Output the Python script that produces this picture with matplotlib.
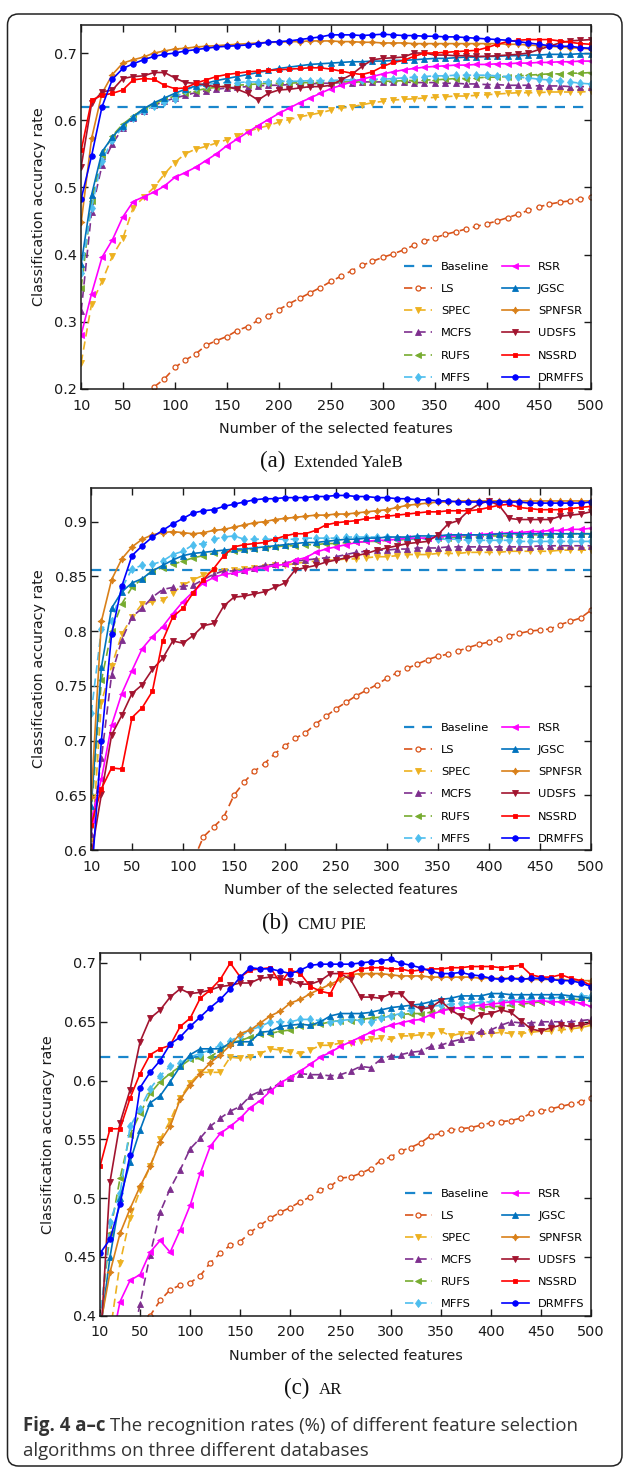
import numpy as np
import matplotlib
matplotlib.use("Agg")
import matplotlib.pyplot as plt
from matplotlib.patches import FancyBboxPatch

nan = float("nan")
n_features = list(range(10, 501, 10))

method_names = ["Baseline", "LS", "SPEC", "MCFS", "RUFS", "MFFS",
                "RSR", "JGSC", "SPNFSR", "UDSFS", "NSSRD", "DRMFFS"]

# ---------------- (a) Extended YaleB ----------------
yaleb_baseline = 0.620
yaleb_ls = [nan, nan, nan, nan, nan, nan, .190, .203, .215, .232,
            .243, .252, .265, .272, .278, .287, .293, .302, .309, .318,
            .327, .335, .343, .351, .360, .368, .376, .384, .390, .396,
            .401, .407, .414, .420, .425, .430, .434, .438, .442, .446,
            .450, .455, .460, .466, .471, .475, .478, .480, .483, .485]
yaleb_spec = [.239, .327, .360, .398, .424, .470, .485, .500, .520, .537,
              .550, .557, .561, .566, .571, .577, .583, .588, .592, .597,
              .601, .605, .608, .611, .615, .618, .620, .623, .626, .628,
              .630, .631, .632, .633, .634, .635, .636, .636, .637, .638,
              .639, .640, .641, .641, .641, .642, .642, .642, .642, .643]
yaleb_mcfs = [.316, .464, .533, .565, .588, .603, .614, .622, .628, .633,
              .637, .641, .644, .646, .648, .649, .650, .651, .652, .652,
              .653, .654, .654, .655, .655, .656, .656, .657, .657, .657,
              .657, .657, .656, .656, .656, .655, .655, .654, .654, .653,
              .653, .652, .652, .652, .651, .651, .651, .650, .650, .650]
yaleb_rufs = [.351, .480, .548, .577, .594, .606, .617, .624, .631, .636,
              .640, .644, .647, .649, .651, .652, .653, .654, .655, .655,
              .655, .656, .656, .656, .656, .657, .657, .657, .658, .658,
              .658, .659, .659, .660, .660, .661, .662, .662, .663, .664,
              .664, .665, .666, .667, .668, .669, .669, .670, .670, .671]
yaleb_mffs = [.372, .470, .540, .570, .590, .604, .614, .621, .627, .632,
              .645, .650, .653, .655, .656, .656, .657, .657, .657, .658,
              .658, .658, .659, .659, .659, .660, .660, .660, .661, .661,
              .662, .663, .664, .665, .666, .666, .667, .667, .667, .667,
              .666, .665, .664, .663, .661, .660, .658, .657, .655, .654]
yaleb_rsr = [.281, .342, .396, .422, .456, .479, .486, .493, .502, .515,
             .522, .530, .540, .550, .562, .572, .582, .592, .601, .610,
             .618, .626, .633, .640, .647, .652, .657, .661, .665, .669,
             .672, .675, .677, .679, .680, .681, .682, .682, .683, .683,
             .684, .684, .685, .685, .686, .686, .687, .687, .688, .688]
yaleb_jgsc = [.386, .489, .553, .575, .592, .605, .617, .626, .633, .640,
              .646, .651, .655, .659, .662, .665, .668, .671, .674, .677,
              .679, .681, .683, .684, .685, .686, .687, .687, .688, .688,
              .689, .689, .690, .691, .692, .692, .693, .694, .694, .695,
              .695, .696, .696, .697, .697, .698, .698, .698, .699, .699]
yaleb_spnfsr = [.448, .573, .640, .668, .685, .690, .694, .700, .703, .706,
                .707, .709, .710, .711, .712, .713, .714, .715, .716, .716,
                .717, .717, .718, .718, .718, .717, .717, .716, .716, .715,
                .715, .715, .714, .714, .714, .714, .714, .714, .714, .714,
                .714, .713, .713, .712, .711, .710, .709, .708, .707, .706]
yaleb_udsfs = [.531, .625, .642, .645, .662, .665, .666, .671, .671, .663,
               .656, .655, .652, .650, .650, .646, .640, .630, .640, .645,
               .646, .648, .650, .650, .652, .660, .668, .680, .690, .692,
               .693, .694, .700, .700, .697, .697, .696, .696, .695, .695,
               .696, .697, .698, .700, .705, .710, .715, .718, .719, .720]
yaleb_nssrd = [.555, .630, .637, .640, .645, .660, .662, .661, .652, .647,
               .648, .655, .660, .665, .668, .670, .672, .673, .674, .675,
               .676, .677, .678, .678, .676, .673, .670, .668, .672, .680,
               .686, .689, .695, .700, .700, .701, .702, .703, .704, .708,
               .713, .717, .719, .720, .720, .720, .718, .716, .714, .713]
yaleb_drmffs = [.483, .547, .620, .661, .677, .684, .690, .695, .698, .700,
                .703, .705, .707, .709, .710, .711, .712, .714, .716, .717,
                .718, .720, .722, .724, .727, .727, .727, .726, .727, .728,
                .727, .726, .726, .725, .725, .724, .724, .723, .722, .721,
                .720, .719, .717, .715, .713, .711, .710, .710, .708, .707]

# ---------------- (b) CMU PIE ----------------
pie_baseline = 0.856
pie_ls = [nan, nan, nan, nan, nan, nan, nan, nan, nan, nan,
          .590, .612, .621, .630, .650, .662, .672, .679, .688, .695,
          .702, .707, .715, .722, .729, .735, .741, .746, .751, .757,
          .762, .766, .770, .774, .777, .779, .782, .785, .788, .790,
          .793, .796, .798, .800, .801, .802, .806, .809, .812, .819]
pie_spec = [.595, .735, .768, .797, .813, .825, .827, .828, .835, .842,
            .847, .851, .855, .855, .856, .857, .858, .859, .860, .860,
            .862, .863, .864, .865, .865, .866, .866, .867, .868, .868,
            .869, .870, .870, .870, .871, .871, .871, .872, .872, .872,
            .872, .873, .873, .873, .873, .873, .874, .874, .874, .874]
pie_mcfs = [.615, .684, .760, .792, .813, .821, .831, .838, .840, .841,
            .842, .847, .852, .855, .855, .856, .858, .860, .861, .862,
            .864, .865, .866, .867, .868, .870, .872, .873, .874, .874,
            .875, .875, .876, .876, .876, .877, .877, .877, .877, .877,
            .877, .877, .877, .877, .878, .878, .878, .878, .878, .878]
pie_rufs = [.632, .755, .800, .825, .840, .848, .855, .858, .861, .864,
            .867, .869, .871, .872, .873, .874, .875, .876, .877, .878,
            .878, .879, .879, .880, .880, .881, .881, .882, .882, .883,
            .883, .884, .884, .885, .885, .885, .886, .886, .886, .887,
            .887, .887, .888, .888, .888, .888, .889, .889, .889, .889]
pie_mffs = [.725, .802, .809, .839, .857, .860, .861, .864, .870, .873,
            .879, .880, .884, .886, .887, .884, .884, .884, .884, .884,
            .884, .885, .885, .885, .885, .886, .886, .886, .886, .886,
            .885, .885, .884, .884, .884, .884, .884, .883, .883, .883,
            .883, .883, .882, .882, .882, .882, .882, .882, .882, .882]
pie_rsr = [.627, .665, .714, .743, .764, .784, .795, .804, .816, .827,
           .836, .844, .849, .852, .853, .855, .857, .858, .860, .861,
           .865, .867, .872, .875, .877, .879, .881, .882, .883, .883,
           .884, .885, .885, .885, .886, .887, .887, .888, .888, .889,
           .889, .890, .890, .891, .891, .892, .892, .893, .893, .894]
pie_jgsc = [.640, .767, .821, .836, .844, .848, .855, .860, .865, .869,
            .871, .872, .873, .874, .875, .875, .876, .877, .878, .879,
            .880, .881, .881, .882, .883, .884, .884, .885, .885, .886,
            .886, .886, .887, .887, .887, .888, .888, .888, .888, .888,
            .889, .889, .889, .889, .889, .889, .889, .889, .889, .889]
pie_spnfsr = [.648, .809, .847, .866, .877, .884, .888, .890, .891, .890,
              .889, .890, .892, .893, .895, .897, .899, .900, .902, .903,
              .904, .905, .906, .906, .907, .907, .908, .909, .910, .911,
              .913, .915, .916, .917, .918, .918, .919, .919, .919, .919,
              .919, .919, .919, .919, .919, .919, .919, .919, .919, .919]
pie_udsfs = [.595, .651, .705, .723, .743, .751, .765, .775, .791, .789,
             .796, .805, .807, .823, .831, .832, .834, .836, .840, .844,
             .856, .858, .860, .863, .865, .867, .869, .871, .874, .876,
             .878, .880, .881, .882, .888, .898, .901, .910, .916, .919,
             .915, .903, .902, .902, .902, .902, .905, .906, .907, .909]
pie_nssrd = [.623, .656, .675, .674, .721, .730, .745, .791, .813, .821,
             .835, .847, .857, .869, .877, .879, .880, .881, .884, .887,
             .889, .889, .892, .897, .899, .900, .901, .903, .904, .905,
             .906, .907, .908, .909, .909, .910, .910, .910, .911, .913,
             .915, .916, .913, .912, .911, .911, .911, .912, .913, .914]
pie_drmffs = [.570, .700, .797, .841, .869, .878, .886, .892, .898, .903,
              .908, .910, .911, .914, .916, .918, .920, .921, .921, .922,
              .922, .922, .923, .923, .924, .924, .923, .923, .922, .922,
              .921, .921, .920, .920, .919, .919, .918, .918, .918, .918,
              .918, .918, .918, .917, .917, .917, .917, .917, .917, .918]

# ---------------- (c) AR ----------------
ar_baseline = 0.620
ar_ls = [nan, nan, nan, nan, .390, .400, .413, .422, .426, .428,
         .434, .445, .453, .460, .463, .471, .477, .483, .488, .492,
         .497, .501, .507, .510, .517, .518, .521, .525, .532, .535,
         .540, .543, .547, .553, .555, .558, .559, .560, .562, .564,
         .565, .566, .568, .572, .574, .576, .578, .580, .582, .585]
ar_spec = [nan, .385, .445, .483, .507, .527, .550, .566, .585, .598,
           .607, .607, .607, .620, .619, .620, .623, .627, .626, .624,
           .623, .626, .630, .630, .632, .632, .634, .635, .636, .635,
           .638, .638, .639, .639, .642, .638, .640, .640, .640, .640,
           .641, .640, .640, .641, .642, .642, .643, .644, .645, .647]
ar_mcfs = [nan, nan, nan, .370, .410, .452, .488, .508, .524, .542,
           .551, .561, .568, .574, .578, .587, .591, .593, .598, .602,
           .606, .605, .605, .604, .605, .608, .612, .611, .618, .621,
           .622, .624, .625, .629, .630, .633, .635, .637, .642, .643,
           .647, .650, .649, .649, .650, .650, .650, .650, .651, .652]
ar_rufs = [.395, .470, .517, .554, .572, .589, .599, .606, .612, .618,
           .619, .620, .626, .632, .634, .637, .640, .640, .642, .643,
           .646, .647, .648, .650, .651, .651, .652, .653, .654, .655,
           .656, .657, .657, .658, .660, .661, .662, .662, .662, .663,
           .663, .664, .665, .666, .667, .667, .668, .669, .669, .670]
ar_mffs = [.395, .480, .504, .561, .576, .593, .604, .612, .615, .620,
           .623, .626, .630, .634, .638, .643, .646, .650, .650, .650,
           .652, .652, .651, .650, .651, .652, .651, .650, .653, .655,
           .657, .660, .662, .663, .664, .665, .666, .666, .667, .667,
           .668, .668, .669, .669, .670, .670, .671, .671, .672, .672]
ar_rsr = [nan, .370, .412, .430, .435, .454, .464, .454, .473, .494,
          .521, .544, .555, .561, .568, .577, .583, .591, .598, .603,
          .608, .614, .620, .624, .629, .633, .637, .641, .644, .647,
          .649, .651, .652, .656, .659, .661, .662, .663, .664, .665,
          .666, .667, .667, .667, .668, .667, .667, .667, .666, .663]
ar_jgsc = [.385, .450, .500, .531, .558, .581, .587, .599, .612, .622,
           .627, .627, .627, .632, .633, .633, .641, .642, .646, .647,
           .648, .647, .650, .655, .657, .657, .657, .658, .660, .662,
           .663, .664, .665, .667, .669, .670, .672, .672, .672, .674,
           .674, .673, .673, .673, .673, .673, .673, .672, .671, .670]
ar_spnfsr = [.390, .437, .470, .491, .510, .527, .548, .561, .584, .596,
             .606, .615, .622, .630, .640, .643, .649, .655, .659, .666,
             .669, .674, .678, .682, .686, .690, .691, .691, .691, .690,
             .689, .689, .689, .688, .688, .688, .688, .688, .687, .687,
             .687, .687, .687, .686, .686, .686, .686, .685, .685, .685]
ar_udsfs = [.370, .514, .564, .592, .633, .653, .660, .671, .678, .674,
            .675, .677, .680, .681, .683, .683, .687, .688, .687, .685,
            .682, .682, .685, .691, .691, .686, .671, .671, .670, .674,
            .674, .665, .661, .662, .668, .660, .655, .651, .656, .657,
            .660, .658, .651, .644, .642, .645, .647, .646, .647, .649]
ar_nssrd = [.527, .559, .559, .585, .606, .622, .627, .630, .646, .653,
            .670, .677, .686, .700, .688, .694, .695, .696, .683, .694,
            .691, .680, .676, .674, .691, .691, .695, .696, .696, .695,
            .695, .693, .694, .695, .695, .696, .696, .697, .697, .697,
            .696, .697, .698, .690, .688, .688, .690, .687, .685, .681]
ar_drmffs = [.453, .465, .495, .537, .594, .607, .617, .631, .637, .646,
             .654, .662, .669, .678, .688, .696, .695, .695, .693, .691,
             .694, .698, .699, .699, .699, .699, .700, .701, .702, .703,
             .700, .698, .696, .693, .691, .691, .692, .690, .689, .687,
             .686, .687, .686, .687, .687, .686, .685, .685, .683, .680]

# line style of every method: colour, marker, line style, marker face, marker size
styles = {
    "LS":     ("#D95319", "o", "--", "white", 3.6),
    "SPEC":   ("#EDB120", "v", "--", None, 4.6),
    "MCFS":   ("#7E2F8E", "^", "--", None, 4.6),
    "RUFS":   ("#77AC30", "<", "--", None, 4.6),
    "MFFS":   ("#4DBEEE", "d", "--", None, 4.4),
    "RSR":    ("#FF00FF", "<", "-", None, 4.6),
    "JGSC":   ("#0072BD", "^", "-", None, 4.6),
    "SPNFSR": ("#D98019", (4, 1, 0), "-", None, 5.0),
    "UDSFS":  ("#A2142F", "v", "-", None, 4.6),
    "NSSRD":  ("#FF0000", "s", "-", None, 2.8),
    "DRMFFS": ("#0000FF", "o", "-", None, 4.0),
}
baseline_color = "#1A86CC"

panels = [
    dict(series=[yaleb_ls, yaleb_spec, yaleb_mcfs, yaleb_rufs, yaleb_mffs, yaleb_rsr,
                 yaleb_jgsc, yaleb_spnfsr, yaleb_udsfs, yaleb_nssrd, yaleb_drmffs],
         baseline=yaleb_baseline, ylim=(0.2, 0.7417),
         yticks=[0.2, 0.3, 0.4, 0.5, 0.6, 0.7],
         box=(81.2, 25, 590.8, 389), ylabel_x=39,
         tag="(a)", name="Extended YaleB", cap=(260, 467)),
    dict(series=[pie_ls, pie_spec, pie_mcfs, pie_rufs, pie_mffs, pie_rsr,
                 pie_jgsc, pie_spnfsr, pie_udsfs, pie_nssrd, pie_drmffs],
         baseline=pie_baseline, ylim=(0.6, 0.9308),
         yticks=[0.6, 0.65, 0.7, 0.75, 0.8, 0.85, 0.9],
         box=(91.2, 488, 590.8, 850), ylabel_x=39,
         tag="(b)", name="CMU PIE", cap=(262, 929)),
    dict(series=[ar_ls, ar_spec, ar_mcfs, ar_rufs, ar_mffs, ar_rsr,
                 ar_jgsc, ar_spnfsr, ar_udsfs, ar_nssrd, ar_drmffs],
         baseline=ar_baseline, ylim=(0.4, 0.7085),
         yticks=[0.4, 0.45, 0.5, 0.55, 0.6, 0.65, 0.7],
         box=(100.0, 953, 591.0, 1315.7), ylabel_x=48,
         tag="(c)", name="AR", cap=(284, 1394)),
]

plt.rcParams["font.family"] = ["DejaVu Sans"]
W, H = 627, 1470
fig = plt.figure(figsize=(W / 100, H / 100), dpi=100)


def fx(px):
    return px / W


def fy(py):
    return 1 - py / H


# rounded frame around the whole figure
frame = FancyBboxPatch((0.075, 0.04), 6.145, 14.52,
                       boxstyle="round,pad=0,rounding_size=0.11",
                       transform=fig.dpi_scale_trans, facecolor="none",
                       edgecolor="#222222", linewidth=1.1, zorder=0)
fig.patches.append(frame)

for p in panels:
    x0, y0, x1, y1 = p["box"]
    ax = fig.add_axes([fx(x0), fy(y1), (x1 - x0) / W, (y1 - y0) / H])
    handles = []
    h, = ax.plot([10, 500], [p["baseline"]] * 2, color=baseline_color, lw=1.6,
                 dashes=(4.6, 3.6))
    handles.append(h)
    for name, vals in zip(method_names[1:], p["series"]):
        color, marker, ls, face, ms = styles[name]
        kw = dict(color=color, marker=marker, markersize=ms, lw=1.2,
                  markeredgewidth=0.9 if face else 0.6,
                  markerfacecolor=face if face else color,
                  markeredgecolor=color)
        if ls == "--":
            kw["dashes"] = (5, 3)
        h, = ax.plot(n_features, vals, **kw)
        handles.append(h)
    ax.set_xlim(10, 500)
    ax.set_ylim(*p["ylim"])
    ax.set_xticks([10, 50, 100, 150, 200, 250, 300, 350, 400, 450, 500])
    ax.set_yticks(p["yticks"])
    ax.set_yticklabels(["%g" % v for v in p["yticks"]])
    ax.tick_params(direction="in", top=True, right=True, length=5, width=1.0,
                   labelsize=10.4, colors="#1a1a1a")
    ax.tick_params(axis="x", pad=7)
    ax.tick_params(axis="y", pad=3)
    for s in ax.spines.values():
        s.set_linewidth(1.1)
        s.set_color("#1a1a1a")
    ax.legend(handles, method_names, ncol=2, loc="lower right", frameon=False,
              fontsize=8.2, handlelength=2.4, handletextpad=0.8,
              columnspacing=1.1, labelspacing=1.07, borderaxespad=0.25,
              borderpad=0.3)
    fig.text(fx(p["ylabel_x"]), fy((y0 + y1) / 2), "Classification accuracy rate",
             rotation=90, ha="center", va="center", fontsize=10.4, color="#1a1a1a")
    fig.text(fx((x0 + x1) / 2), fy(y1 + 40), "Number of the selected features",
             ha="center", va="center", fontsize=10.4, color="#1a1a1a")
    cx, cy = p["cap"]
    t = fig.text(fx(cx), fy(cy), p["tag"], ha="left", va="baseline",
                 fontsize=16.5, family="Liberation Serif", color="#111111")
    fig.canvas.draw()
    bb = t.get_window_extent()
    fig.text(fx(bb.x1 + 9), fy(cy), p["name"], ha="left", va="baseline",
             fontsize=12.2, family="Liberation Serif", color="#111111")

# figure caption
cap_font = "Open Sans"
cap_size = 13.4
t1 = fig.text(fx(22.8), fy(1431), "Fig. 4 a\u2013c", ha="left", va="baseline",
              fontsize=cap_size, family=cap_font, weight="bold", color="#333333")
fig.canvas.draw()
bb = t1.get_window_extent()
fig.text(fx(bb.x1 + 5), fy(1431),
         "The recognition rates (%) of different feature selection",
         ha="left", va="baseline", fontsize=cap_size, family=cap_font, color="#333333")
fig.text(fx(22.8), fy(1456.5), "algorithms on three different databases",
         ha="left", va="baseline", fontsize=cap_size, family=cap_font, color="#333333")

fig.savefig("out.png", dpi=100)
